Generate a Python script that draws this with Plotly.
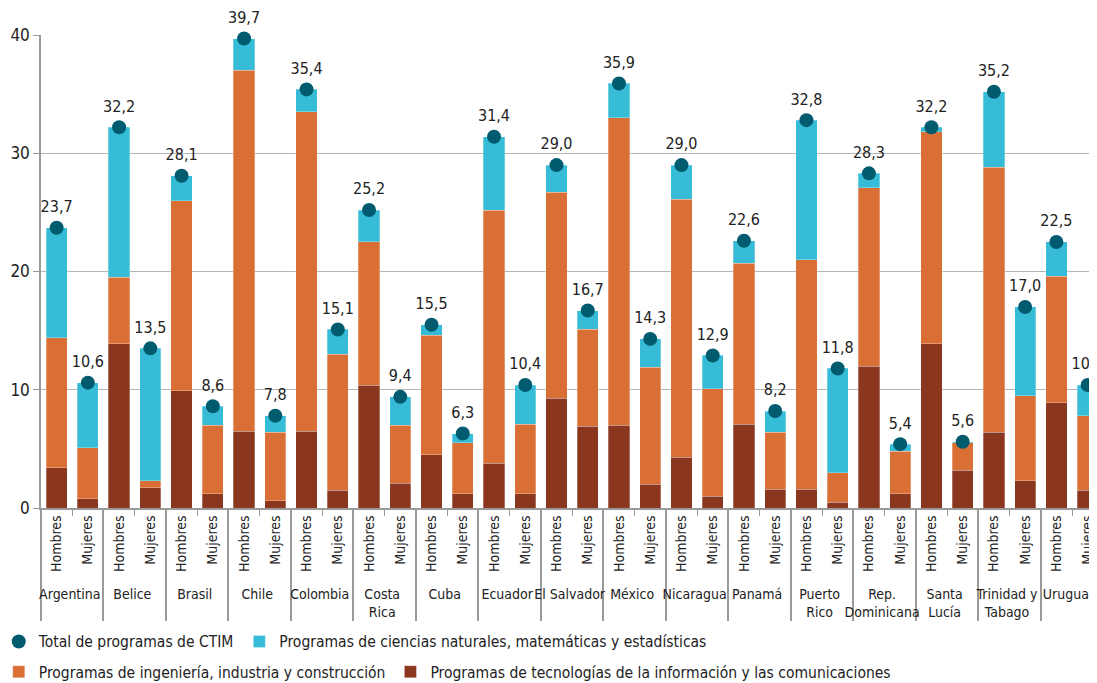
import plotly.graph_objects as go

countries = ["Argentina", "Belice", "Brasil", "Chile", "Colombia", "Costa<br>Rica", "Cuba",
             "Ecuador", "El Salvador", "México", "Nicaragua", "Panamá", "Puerto<br>Rico",
             "Rep.<br>Dominicana", "Santa<br>Lucía", "Trinidad y<br>Tabago", "Uruguay"]
sexes = ["Hombres", "Mujeres"]

# values per country: (Hombres, Mujeres)
tic = [3.4, 0.8, 13.9, 1.7, 9.9, 1.2, 6.5, 0.6, 6.5, 1.5, 10.4, 2.1, 4.5, 1.2,
       3.8, 1.2, 9.3, 6.9, 7.0, 2.0, 4.3, 1.0, 7.1, 1.6, 1.6, 0.5, 12.0, 1.2,
       13.9, 3.2, 6.4, 2.3, 8.9, 1.5]
ing = [11.0, 4.3, 5.6, 0.6, 16.1, 5.8, 30.5, 5.8, 27.0, 11.5, 12.1, 4.9, 10.1, 4.3,
       21.4, 5.9, 17.4, 8.2, 26.0, 9.9, 21.8, 9.1, 13.6, 4.8, 19.4, 2.5, 15.1, 3.6,
       17.9, 2.3, 22.4, 7.2, 10.7, 6.3]
cn = [9.3, 5.5, 12.7, 11.2, 2.1, 1.6, 2.7, 1.4, 1.9, 2.1, 2.7, 2.4, 0.9, 0.8,
      6.2, 3.3, 2.3, 1.6, 2.9, 2.4, 2.9, 2.8, 1.9, 1.8, 11.8, 8.8, 1.2, 0.6,
      0.4, 0.1, 6.4, 7.5, 2.9, 2.6]
total = [23.7, 10.6, 32.2, 13.5, 28.1, 8.6, 39.7, 7.8, 35.4, 15.1, 25.2, 9.4, 15.5, 6.3,
         31.4, 10.4, 29.0, 16.7, 35.9, 14.3, 29.0, 12.9, 22.6, 8.2, 32.8, 11.8, 28.3, 5.4,
         32.2, 5.6, 35.2, 17.0, 22.5, 10.4]

x_outer = [c for c in countries for _ in sexes]
x_inner = [s for _ in countries for s in sexes]
x = [x_outer, x_inner]

FONT = "DejaVu Sans Condensed, Roboto, sans-serif"
BROWN = "#8B361E"
ORANGE = "#D96F35"
CYAN = "#36BCD7"
TEAL = "#005B6E"
GREY = "#9a9a9a"
SEAM = dict(color="rgba(255,255,255,0.35)", width=0.8)

fig = go.Figure()
fig.add_trace(go.Bar(x=x, y=tic, marker=dict(color=BROWN, line=SEAM), legend="legend2", legendrank=2,
                     name="Programas de tecnologías de la información y las comunicaciones"))
fig.add_trace(go.Bar(x=x, y=ing, marker=dict(color=ORANGE, line=SEAM), legend="legend2", legendrank=1,
                     name="Programas de ingeniería, industria y construcción"))
fig.add_trace(go.Bar(x=x, y=cn, marker=dict(color=CYAN, line=SEAM), legend="legend", legendrank=2,
                     name="Programas de ciencias naturales, matemáticas y estadísticas"))
fig.add_trace(go.Scatter(x=x, y=total, mode="markers", legend="legend", legendrank=1,
                         name="Total de programas de CTIM",
                         marker=dict(color=TEAL, size=14), cliponaxis=False))
# value labels, offset above the markers
fig.add_trace(go.Scatter(x=x, y=total, mode="markers+text", showlegend=False,
                         marker=dict(color="rgba(0,0,0,0)", size=17),
                         text=[f"{v:.1f}".replace(".", ",") for v in total],
                         textposition="top center",
                         textfont=dict(size=16, color="#222"),
                         cliponaxis=False, hoverinfo="skip"))

# page body adds an 8px offset, so the figure is 8px smaller than the window
fig.update_layout(
    width=1089, height=675,
    barmode="stack", bargap=0.32,
    plot_bgcolor="white", paper_bgcolor="white",
    margin=dict(l=33, r=0, t=27, b=175, autoexpand=False),
    font=dict(family=FONT, size=15, color="#222"),
    legend=dict(orientation="h", x=-0.04, xanchor="left", y=-0.283, yanchor="middle",
                font=dict(size=15.5), itemwidth=30, traceorder="normal"),
    legend2=dict(orientation="h", x=-0.04, xanchor="left", y=-0.347, yanchor="middle",
                 font=dict(size=15.5), itemwidth=30, traceorder="normal"),
)
fig.update_xaxes(type="multicategory", range=[-0.5, 33.3], tickangle=-90, automargin=False,
                 showline=True, linecolor=GREY, linewidth=1.5,
                 ticks="outside", ticklen=6, tickcolor=GREY,
                 showdividers=True, dividercolor=GREY, dividerwidth=1.5,
                 tickfont=dict(size=14))
fig.update_yaxes(range=[0, 40], dtick=10, showgrid=True, gridcolor="#b5b5b5", gridwidth=1,
                 automargin=False,
                 showline=True, linecolor=GREY, linewidth=1.5, zeroline=False,
                 ticks="outside", ticklen=6, tickcolor=GREY,
                 tickfont=dict(size=17))

fig.write_html("out.html")
